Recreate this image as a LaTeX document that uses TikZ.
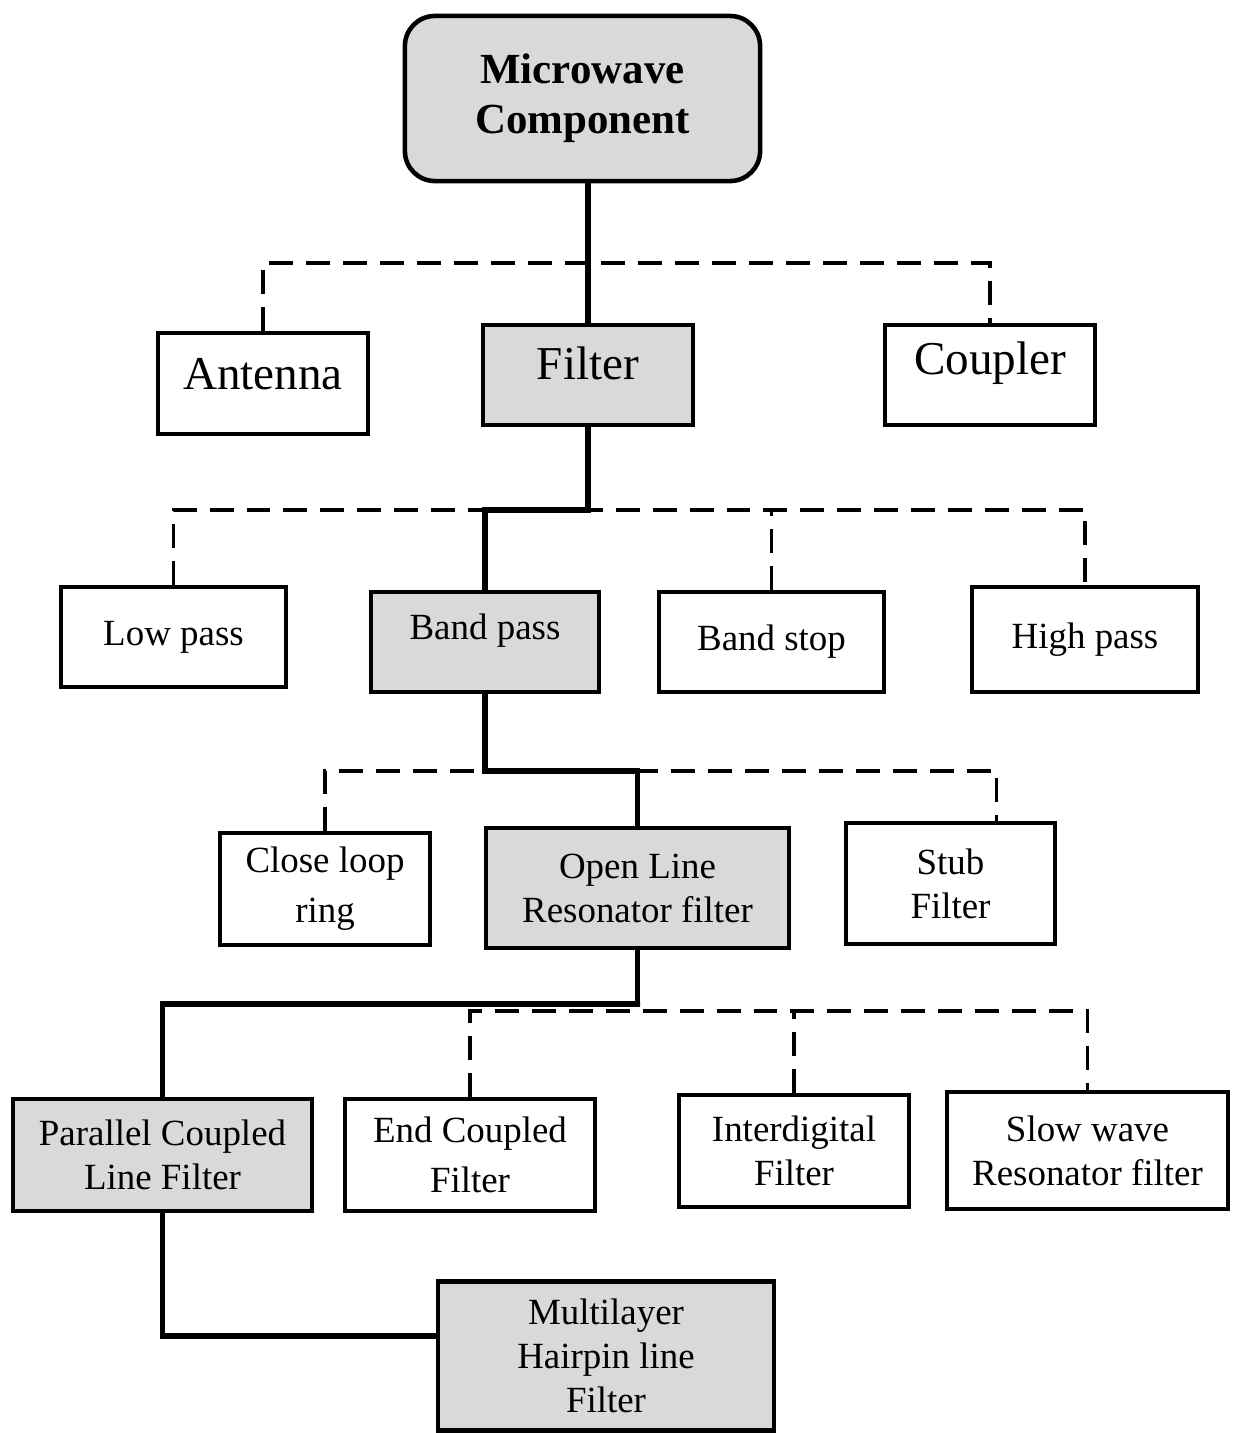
\documentclass[tikz,border=0pt]{standalone}
\usepackage{fontspec}
\setmainfont{Liberation Serif}

\tikzset{
  box/.style={draw, fill=white, line width=1.3pt, inner sep=0pt, align=center,
    font=\fontsize{10.5}{12.5}\selectfont},
  greybox/.style={box, fill=gray!30},
  bigtext/.style={font=\fontsize{13.4}{16}\selectfont},
  tree/.style={line width=1.6pt},
  dashline/.style={line width=1.1pt, dash pattern=on 6.8pt off 3.7pt},
}

\begin{document}
\begin{tikzpicture}[x=0.01cm, y=-0.01cm]
  \fill[white] (0,0) rectangle (1232,1433);
  \useasboundingbox (0,0) rectangle (1232,1433);

  \node (mw) [greybox, rounded corners=0.3cm, minimum width=3.55cm, minimum height=1.65cm,
    font=\bfseries\fontsize{12.2}{14.2}\selectfont] at (582.5,98.5) {Microwave\\Component};

  \node (ant) [box, bigtext, minimum width=2.1cm, minimum height=1.01cm, text depth=0.2cm] at (263,383.5) {Antenna};
  \node (fil) [greybox, bigtext, minimum width=2.1cm, minimum height=1cm, text depth=0.24cm] at (588,375) {Filter};
  \node (cpl) [box, bigtext, minimum width=2.1cm, minimum height=1cm, text depth=0.34cm] at (990,375) {Coupler};

  \node (lp) [box, minimum width=2.25cm, minimum height=1cm] at (173.5,637) {Low pass};
  \node (bp) [greybox, minimum width=2.28cm, minimum height=1cm, text depth=0.3cm] at (485,642) {Band pass};
  \node (bs) [box, minimum width=2.25cm, minimum height=1cm] at (771.5,642) {Band stop};
  \node (hp) [box, minimum width=2.26cm, minimum height=1.05cm] at (1085,639.5) {High pass};

  \node (cl) [box, minimum width=2.1cm, minimum height=1.12cm] at (325,889) {Close loop\\[0.06cm]ring};
  \node (ol) [greybox, minimum width=3.03cm, minimum height=1.2cm] at (637.5,888) {Open Line\\Resonator filter};
  \node (st) [box, minimum width=2.09cm, minimum height=1.21cm] at (950.5,883.5) {Stub\\Filter};

  \node (pc) [greybox, minimum width=2.99cm, minimum height=1.12cm] at (162.5,1155) {Parallel Coupled\\Line Filter};
  \node (ec) [box, minimum width=2.5cm, minimum height=1.12cm] at (470,1155) {End Coupled\\[0.06cm]Filter};
  \node (id) [box, minimum width=2.3cm, minimum height=1.12cm] at (794,1151) {Interdigital\\Filter};
  \node (sw) [box, minimum width=2.81cm, minimum height=1.17cm] at (1087.5,1150.5) {Slow wave\\Resonator filter};

  \node (ml) [greybox, minimum width=3.36cm, minimum height=1.49cm] at (606,1356) {Multilayer\\Hairpin line\\Filter};

  \coordinate (l1) at (585,263);
  \coordinate (l2) at (585,510);
  \coordinate (l3) at (485,771);
  \coordinate (l4) at (640,1004);
  \coordinate (l4d) at (640,1011);

  \draw [dashline] (ant.north) |- (l1) -| (cpl.north);
  \draw [dashline] (lp.north) |- (l2) -| (hp.north);
  \draw [dashline] (bs.north) -- (bs.north |- l2);
  \draw [dashline] (cl.north) |- (l3) -| ([xshift=0.46cm]st.north);
  \draw [dashline] (ec.north) |- (l4d) -| (sw.north);
  \draw [dashline] (id.north) -- (id.north |- l4d);

  \draw [tree] (fil.north |- mw.south) -- (fil.north);
  \draw [tree] (fil.south) |- (l2) -| (bp.north);
  \draw [tree] (bp.south) |- (l3) -| (ol.north);
  \draw [tree] (ol.south) |- (l4) -| (pc.north);
  \draw [tree] (pc.south) |- ([yshift=0.2cm]ml.west);
\end{tikzpicture}
\end{document}
